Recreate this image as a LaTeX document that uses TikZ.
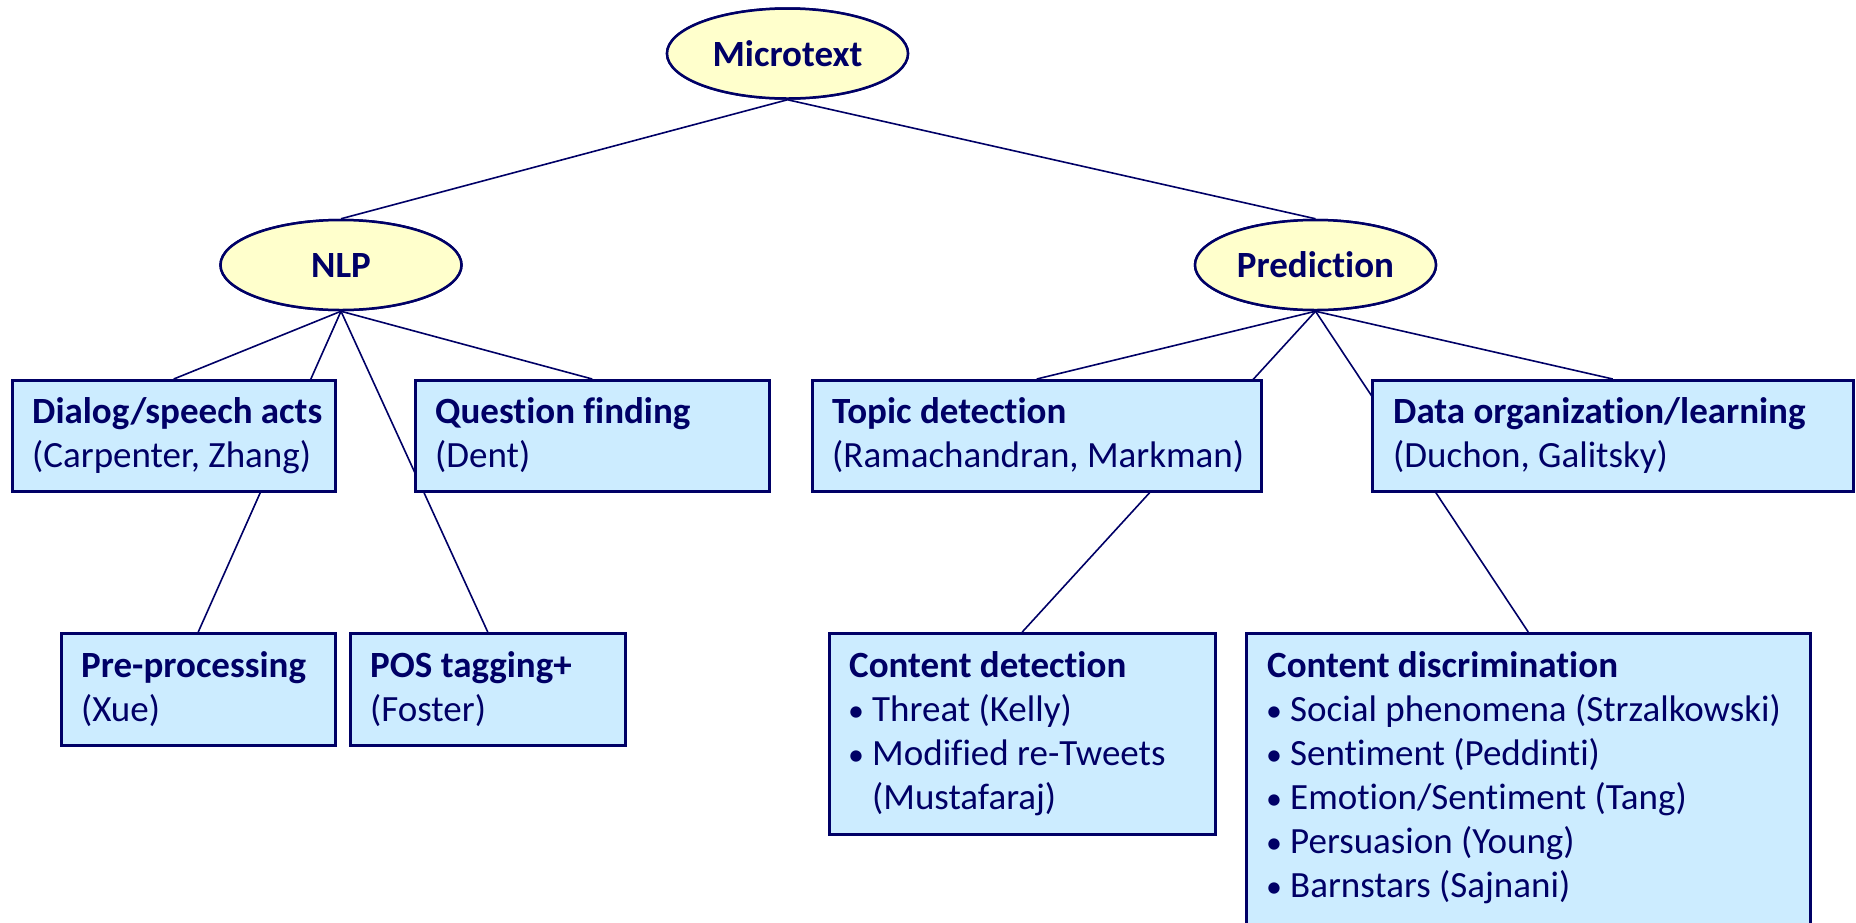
\documentclass[tikz,border=0pt]{standalone}
\usepackage{fontspec}
\setmainfont{Carlito}[Ligatures=NoCommon]
\usetikzlibrary{shapes.geometric,calc}
\definecolor{navy}{HTML}{000066}
\definecolor{boxblue}{HTML}{CCECFF}
\definecolor{ellyellow}{HTML}{FFFFCC}
\newcommand{\st}{\rule{0pt}{32pt}}
\newcommand{\bul}{\makebox[23pt][l]{\hspace*{-1pt}\fontsize{32}{44}\selectfont•}}
\tikzset{
  oval/.style={ellipse, draw=navy, fill=ellyellow, line width=2.5pt, inner sep=0pt,
    minimum width=241pt, minimum height=90pt, text=navy, font=\fontsize{37}{44}\selectfont\bfseries},
  boxnode/.style={rectangle, draw=navy, fill=boxblue, line width=2.5pt, inner sep=0pt, anchor=north west},
  boxtext/.style={anchor=north west, inner sep=0pt, align=left, text=navy, font=\fontsize{37}{44}\selectfont},
  link/.style={draw=navy, line width=1.6pt}
}
\begin{document}
\begin{tikzpicture}[x=1pt,y=-1pt]
\useasboundingbox (0,0) rectangle (1856,922);
\clip (0,0) rectangle (1856,922);
% ellipses
\node[oval] (micro) at (787.5,53.5) {Microtext};
\node[oval] (nlp) at (341,265) {NLP};
\node[oval] (pred) at (1315.5,265) {Prediction};
% invisible box geometry for links
\node[boxnode, draw=none, fill=none, minimum width=323pt, minimum height=111pt] (dialog0) at (11,379) {};
\node[boxnode, draw=none, fill=none, minimum width=354pt, minimum height=111pt] (question0) at (414,379) {};
\node[boxnode, draw=none, fill=none, minimum width=449pt, minimum height=111pt] (topic0) at (811,379) {};
\node[boxnode, draw=none, fill=none, minimum width=481pt, minimum height=111pt] (data0) at (1371,379) {};
\node[boxnode, draw=none, fill=none, minimum width=274pt, minimum height=112pt] (pre0) at (60,632) {};
\node[boxnode, draw=none, fill=none, minimum width=275pt, minimum height=112pt] (pos0) at (349,632) {};
\node[boxnode, draw=none, fill=none, minimum width=386pt, minimum height=201pt] (cdet0) at (828,632) {};
\node[boxnode, draw=none, fill=none, minimum width=564pt, minimum height=330pt] (cdisc0) at (1245,632) {};
\draw[link] (micro.south) -- (nlp.north);
\draw[link] (micro.south) -- (pred.north);
\draw[link] (nlp.south) -- (dialog0.north);
\draw[link] (nlp.south) -- (question0.north);
\draw[link] (nlp.south) -- (pre0.north);
\draw[link] (nlp.south) -- (pos0.north);
\draw[link] (pred.south) -- (topic0.north);
\draw[link] (pred.south) -- (data0.north);
\draw[link] (pred.south) -- (cdet0.north);
\draw[link] (pred.south) -- (cdisc0.north);
% redraw ellipses on top
\node[oval] at (micro) {Microtext};
\node[oval] at (nlp) {NLP};
\node[oval] at (pred) {Prediction};
% boxes
\node[boxnode, minimum width=323pt, minimum height=111pt] (dialog) at (11,379) {};
\node[boxnode, minimum width=354pt, minimum height=111pt] (question) at (414,379) {};
\node[boxnode, minimum width=449pt, minimum height=111pt] (topic) at (811,379) {};
\node[boxnode, minimum width=481pt, minimum height=111pt] (data) at (1371,379) {};
\node[boxnode, minimum width=274pt, minimum height=112pt] (pre) at (60,632) {};
\node[boxnode, minimum width=275pt, minimum height=112pt] (pos) at (349,632) {};
\node[boxnode, minimum width=386pt, minimum height=201pt] (cdet) at (828,632) {};
\node[boxnode, minimum width=564pt, minimum height=330pt] (cdisc) at (1245,632) {};
% texts
\node[boxtext] (dialogT) at ($(dialog.north west)+(21,12)$) {\st\textbf{Dialog/speech acts}\\\st(Carpenter, Zhang)};
\node[boxtext] (questionT) at ($(question.north west)+(21,12)$) {\st\textbf{Question finding}\\\st(Dent)};
\node[boxtext] (topicT) at ($(topic.north west)+(21,12)$) {\st\textbf{Topic detection}\\\st(Ramachandran, Markman)};
\node[boxtext] (dataT) at ($(data.north west)+(22,12)$) {\st\textbf{Data organization/learning}\\\st(Duchon, Galitsky)};
\node[boxtext] (preT) at ($(pre.north west)+(21,13)$) {\st\textbf{Pre-processing}\\\st(Xue)};
\node[boxtext] (posT) at ($(pos.north west)+(21,13)$) {\st\textbf{POS tagging+}\\\st(Foster)};
\node[boxtext] (cdetT) at ($(cdet.north west)+(21,13)$) {\st\textbf{Content detection}\\\st\bul Threat (Kelly)\\\st\bul Modified re-Tweets\\\st\hspace*{23pt}(Mustafaraj)};
\node[boxtext] (cdiscT) at ($(cdisc.north west)+(22,13)$) {\st\textbf{Content discrimination}\\\st\bul Social phenomena (Strzalkowski)\\\st\bul Sentiment (Peddinti)\\\st\bul Emotion/Sentiment (Tang)\\\st\bul Persuasion (Young)\\\st\bul Barnstars (Sajnani)};
\end{tikzpicture}
\end{document}
